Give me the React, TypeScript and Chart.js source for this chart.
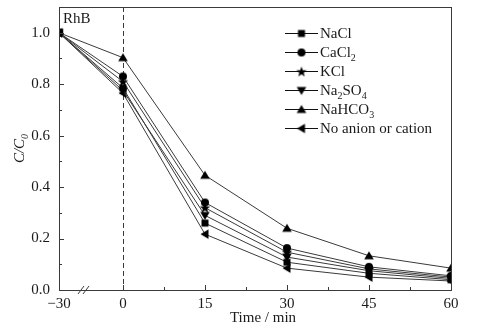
import React, { useEffect, useRef } from 'react';
import { Chart, registerables } from 'chart.js';

Chart.register(...registerables);

// ---- data ----
const times = [-30, 0, 15, 30, 45, 60];
const seriesNames = ['NaCl', 'CaCl2', 'KCl', 'Na2SO4', 'NaHCO3', 'No anion or cation'];
const naCl = [1.0, 0.785, 0.26, 0.108, 0.065, 0.04];
const caCl2 = [1.0, 0.83, 0.34, 0.163, 0.09, 0.055];
const kCl = [1.0, 0.81, 0.32, 0.147, 0.082, 0.05];
const na2SO4 = [1.0, 0.775, 0.29, 0.128, 0.075, 0.045];
const naHCO3 = [1.0, 0.903, 0.446, 0.24, 0.133, 0.085];
const noIon = [1.0, 0.765, 0.217, 0.085, 0.05, 0.035];
const seriesValues = [naCl, caCl2, kCl, na2SO4, naHCO3, noIon];
const markerKinds = ['square', 'circle', 'star', 'down', 'up', 'left'];
const xTickValues = [-30, 0, 15, 30, 45, 60];
const xMinorValues = [7.5, 22.5, 37.5, 52.5];
const yTickValues = [0, 0.2, 0.4, 0.6, 0.8, 1.0];
const yMinorValues = [0.1, 0.3, 0.5, 0.7, 0.9];
const sampleLabel = 'RhB';
const xTitle = 'Time / min';

// broken axis: the -30 segment is compressed
const BREAK_WIDTH = 11.7;
const toAxis = (t: number) => (t < 0 ? (t / 30) * BREAK_WIDTH : t);

const FONT = "'Liberation Serif', 'Times New Roman', serif";
const INK = '#1a1a1a';
const LINE = '#3a3a3a';

function makeMarker(kind: string): HTMLCanvasElement {
  const c = document.createElement('canvas');
  const s = 12;
  c.width = s;
  c.height = s;
  const g = c.getContext('2d')!;
  g.fillStyle = '#000';
  const m = s / 2;
  g.beginPath();
  if (kind === 'square') {
    g.rect(m - 3.5, m - 3.5, 7, 7);
  } else if (kind === 'circle') {
    g.arc(m, m, 4, 0, Math.PI * 2);
  } else if (kind === 'star') {
    const R = 5.5, r = 2.3;
    for (let i = 0; i < 10; i++) {
      const a = -Math.PI / 2 + (i * Math.PI) / 5;
      const rr = i % 2 === 0 ? R : r;
      const px = m + rr * Math.cos(a), py = m + rr * Math.sin(a) + 0.5;
      if (i === 0) g.moveTo(px, py); else g.lineTo(px, py);
    }
    g.closePath();
  } else if (kind === 'up') {
    g.moveTo(m, m - 4.5); g.lineTo(m + 4.8, m + 3.5); g.lineTo(m - 4.8, m + 3.5); g.closePath();
  } else if (kind === 'down') {
    g.moveTo(m, m + 4.5); g.lineTo(m + 4.8, m - 3.5); g.lineTo(m - 4.8, m - 3.5); g.closePath();
  } else if (kind === 'left') {
    g.moveTo(m - 4.5, m); g.lineTo(m + 3.5, m - 4.8); g.lineTo(m + 3.5, m + 4.8); g.closePath();
  }
  g.fill();
  return c;
}

function drawChemText(ctx: CanvasRenderingContext2D, text: string, x: number, y: number, size: number) {
  // digits following letters are subscripts
  let cx = x;
  for (let i = 0; i < text.length; i++) {
    const ch = text[i];
    const isSub = /[0-9]/.test(ch) && i > 0 && /[A-Za-z0-9]/.test(text[i - 1]);
    if (isSub) {
      ctx.font = `${Math.round(size * 0.65)}px ${FONT}`;
      ctx.fillText(ch, cx, y + 3.5);
    } else {
      ctx.font = `${size}px ${FONT}`;
      ctx.fillText(ch, cx, y);
    }
    cx += ctx.measureText(ch).width;
  }
}

let markerImgs: HTMLCanvasElement[] = [];

const decorPlugin = {
  id: 'decor',
  beforeDatasetsDraw(chart: any) {
    const { ctx, chartArea: a, scales } = chart;
    const xs = scales.x;
    ctx.save();
    ctx.strokeStyle = LINE;
    ctx.lineWidth = 1;
    ctx.setLineDash([5, 3]);
    const x0 = Math.round(xs.getPixelForValue(toAxis(0))) + 0.5;
    ctx.beginPath();
    ctx.moveTo(x0, a.top);
    ctx.lineTo(x0, a.bottom);
    ctx.stroke();
    ctx.restore();
  },
  afterDraw(chart: any) {
    const { ctx, chartArea: a, scales } = chart;
    const xs = scales.x, ys = scales.y;
    ctx.save();
    ctx.strokeStyle = LINE;
    ctx.lineWidth = 1;
    ctx.setLineDash([]);
    ctx.strokeRect(Math.round(a.left) + 0.5, Math.round(a.top) + 0.5, Math.round(a.right - a.left), Math.round(a.bottom - a.top));
    ctx.beginPath();
    xTickValues.forEach((t) => {
      if (t < 0) return;
      const px = Math.round(xs.getPixelForValue(toAxis(t))) + 0.5;
      ctx.moveTo(px, a.bottom); ctx.lineTo(px, a.bottom - 5);
    });
    xMinorValues.forEach((t) => {
      const px = Math.round(xs.getPixelForValue(toAxis(t))) + 0.5;
      ctx.moveTo(px, a.bottom); ctx.lineTo(px, a.bottom - 3);
    });
    yTickValues.forEach((v) => {
      const py = Math.round(ys.getPixelForValue(v)) + 0.5;
      ctx.moveTo(a.left, py); ctx.lineTo(a.left + 5, py);
    });
    yMinorValues.forEach((v) => {
      const py = Math.round(ys.getPixelForValue(v)) + 0.5;
      ctx.moveTo(a.left, py); ctx.lineTo(a.left + 3, py);
    });
    ctx.stroke();
    ctx.beginPath();
    [22, 27].forEach((dx) => {
      const cx = a.left + dx;
      ctx.moveTo(cx - 3, a.bottom + 4);
      ctx.lineTo(cx + 3, a.bottom - 4);
    });
    ctx.stroke();

    ctx.fillStyle = INK;
    ctx.textBaseline = 'alphabetic';
    ctx.textAlign = 'left';
    ctx.font = `15px ${FONT}`;
    ctx.fillText(sampleLabel, a.left + 4, a.top + 16);

    ctx.textAlign = 'center';
    ctx.fillText(xTitle, 263, chart.height - 6);

    ctx.save();
    ctx.translate(24, (a.top + a.bottom) / 2);
    ctx.rotate(-Math.PI / 2);
    ctx.textAlign = 'left';
    ctx.font = `italic 15px ${FONT}`;
    const main = 'C/C';
    const wMain = ctx.measureText(main).width;
    ctx.font = `italic 10px ${FONT}`;
    const wSub = ctx.measureText('0').width;
    const start = -(wMain + wSub) / 2;
    ctx.font = `italic 15px ${FONT}`;
    ctx.fillText(main, start, 0);
    ctx.font = `italic 10px ${FONT}`;
    ctx.fillText('0', start + wMain, 3.5);
    ctx.restore();

    ctx.textAlign = 'left';
    const lx = a.left + 226;
    const ly0 = a.top + 26;
    seriesNames.forEach((name, i) => {
      const y = ly0 + i * 19;
      ctx.strokeStyle = '#111';
      ctx.lineWidth = 1;
      ctx.beginPath();
      ctx.moveTo(lx, y + 0.5);
      ctx.lineTo(lx + 33, y + 0.5);
      ctx.stroke();
      const mk = markerImgs[i];
      ctx.drawImage(mk, lx + 16.5 - mk.width / 2, y + 0.5 - mk.height / 2);
      ctx.fillStyle = INK;
      drawChemText(ctx, name, lx + 35, y + 5, 15);
    });
    ctx.restore();
  },
};

export default function App() {
  const ref = useRef<HTMLCanvasElement | null>(null);
  useEffect(() => {
    if (!ref.current) return;
    markerImgs = markerKinds.map(makeMarker);
    const datasets = seriesNames.map((name, i) => ({
      label: name,
      data: times.map((t, j) => ({ x: toAxis(t), y: seriesValues[i][j] })),
      borderColor: LINE,
      borderWidth: 1,
      pointStyle: markerImgs[i] as any,
      pointRadius: 5,
      backgroundColor: '#000',
      tension: 0,
    }));
    const xTickLabels = new Map(xTickValues.map((t) => [toAxis(t), t < 0 ? '\u2212' + String(-t) : String(t)]));
    const chart = new Chart(ref.current, {
      type: 'line',
      data: { datasets },
      plugins: [decorPlugin],
      options: {
        animation: false,
        responsive: false,
        layout: { padding: { top: 7, right: 32, left: 0, bottom: 0 } },
        plugins: { legend: { display: false }, tooltip: { enabled: false }, title: { display: false } },
        scales: {
          x: {
            type: 'linear',
            min: toAxis(-30),
            max: 60,
            grid: { display: false, drawTicks: false },
            border: { display: false },
            afterBuildTicks: (s: any) => {
              s.ticks = xTickValues.map((t) => ({ value: toAxis(t) }));
            },
            afterFit: (s: any) => {
              s.height = 38;
              s.paddingLeft = 0;
              s.paddingRight = 0;
            },
            ticks: {
              padding: 5,
              color: INK,
              font: { family: FONT, size: 15 },
              maxRotation: 0,
              autoSkip: false,
              callback: (v: any) => xTickLabels.get(v) ?? '',
            },
          },
          y: {
            type: 'linear',
            min: 0,
            max: 1.1,
            grid: { display: false, drawTicks: false },
            border: { display: false },
            afterBuildTicks: (s: any) => {
              s.ticks = yTickValues.map((v) => ({ value: v }));
            },
            afterFit: (s: any) => {
              s.width = 59;
              s.paddingTop = 0;
              s.paddingBottom = 0;
            },
            ticks: {
              padding: 9,
              color: INK,
              font: { family: FONT, size: 15 },
              autoSkip: false,
              callback: (v: any) => Number(v).toFixed(1),
            },
          },
        },
      },
    });
    return () => chart.destroy();
  }, []);
  return (
    <div style={{ position: 'absolute', left: 0, top: 0, width: 483, height: 328, background: '#fff' }}>
      <canvas ref={ref} width={483} height={328} />
    </div>
  );
}
